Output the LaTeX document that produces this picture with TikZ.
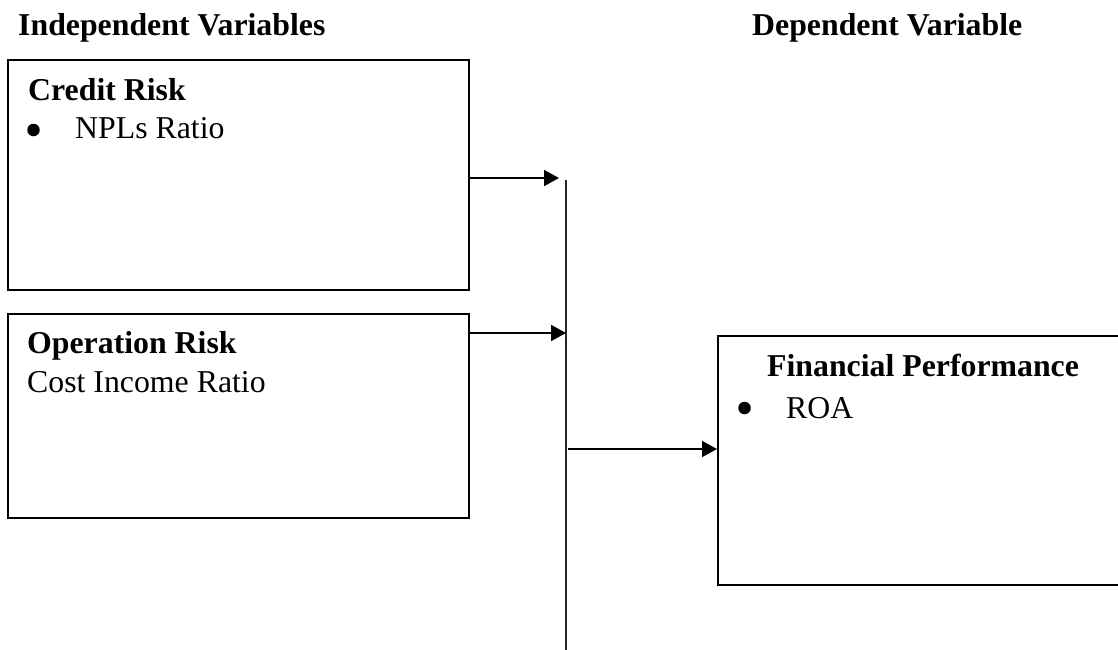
\documentclass[tikz,border=0pt]{standalone}
\usepackage{fontspec}
\setmainfont{Liberation Serif}
\usetikzlibrary{arrows.meta}
\tikzset{
  box/.style={draw=black, line width=2pt, rectangle, inner sep=0pt, anchor=north west},
  txt/.style={anchor=base west, inner sep=0pt, font=\fontsize{31.8}{38}\selectfont},
  hdr/.style={txt, font=\fontsize{31.8}{38}\selectfont\bfseries},
  dot/.style={circle, fill=black, inner sep=0pt, minimum size=12.5pt},
  arr/.style={line width=1.8pt, -{Triangle[length=15pt,width=16pt]}},
  vline/.style={line width=1.8pt, draw=black!85}
}
\begin{document}
\begin{tikzpicture}[x=1pt,y=-1pt]
\useasboundingbox (0,0) rectangle (1118,649);
\clip (0,0) rectangle (1118,649);
\fill[white] (0,0) rectangle (1118,649);
% headers
\node[hdr] (indep) at (18,35) {Independent Variables};
\node[hdr] (dep) at (752,35) {Dependent Variable};
% boxes
\node[box, minimum width=461pt, minimum height=230pt] (credit) at (7,59) {};
\node[box, minimum width=461pt, minimum height=204pt] (oper) at (7,313) {};
\node[box, minimum width=500pt, minimum height=249pt] (fin) at (717,335) {};
% box texts
\node[hdr] (crt) at (28,100) {Credit Risk};
\node[dot] (b1) at (33.5,130) {};
\node[txt] (npl) at (75,138) {NPLs Ratio};
\node[hdr] (opt) at (27,353) {Operation Risk};
\node[txt] (cir) at (27,392) {Cost Income Ratio};
\node[hdr] (fpt) at (767,376) {Financial Performance};
\node[dot] (b2) at (744.5,408) {};
\node[txt] (roa) at (786,418) {ROA};
% vertical line
\coordinate (vtop) at (566,180);
\coordinate (vbot) at (566,655);
\draw[vline] (vtop) -- (vbot);
% arrows
\coordinate (a1) at (559,178);
\coordinate (a2) at (566,333);
\coordinate (a3) at (568,449);
\draw[arr] (credit.east |- a1) -- (a1);
\draw[arr] (oper.east |- a2) -- (a2);
\draw[arr] (a3) -- (fin.west |- a3);
\end{tikzpicture}
\end{document}
